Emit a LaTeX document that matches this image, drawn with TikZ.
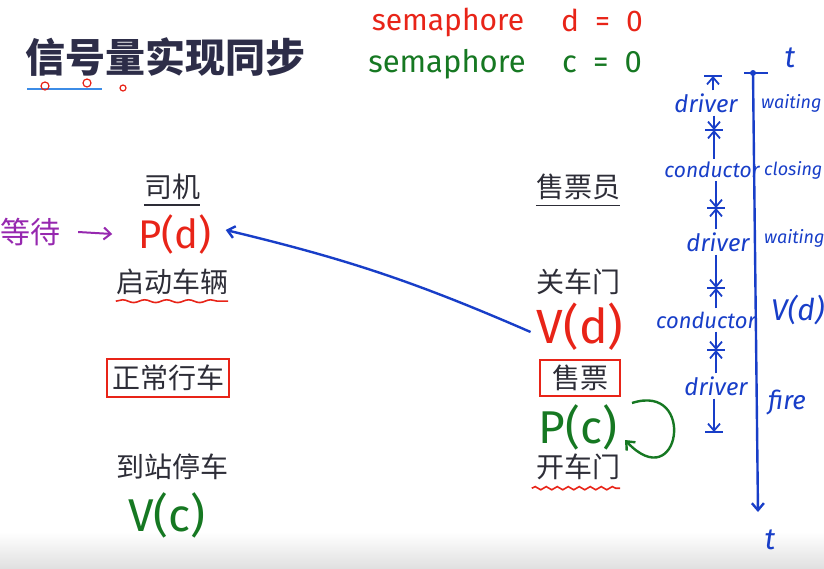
\documentclass[tikz,border=0pt]{standalone}
\usepackage{fontspec}
\setmainfont{Fira Sans}
\newfontfamily\cjk{Noto Sans CJK SC}
\newfontfamily\hand{Fira Sans}
\usetikzlibrary{arrows.meta,decorations.pathmorphing}

\definecolor{inkred}{RGB}{232,36,24}
\definecolor{inkgreen}{RGB}{22,120,34}
\definecolor{inkblue}{RGB}{24,62,200}
\definecolor{inkpurple}{RGB}{150,40,175}
\definecolor{slidetext}{RGB}{45,45,55}
\definecolor{titletext}{RGB}{45,45,72}
\definecolor{markblue}{RGB}{60,140,230}

\tikzset{
  zh/.style={font=\cjk\fontsize{28}{30}\selectfont,text=slidetext,inner sep=0pt},
  title/.style={font=\cjk\bfseries\fontsize{40}{42}\selectfont,text=titletext,inner sep=0pt},
  hand/.style={font=\hand\fontsize{#1}{#1}\selectfont,inner sep=0pt},
  bluehand/.style={font=\hand\itshape\fontsize{#1}{#1}\selectfont,text=inkblue,inner sep=0pt},
  redbox/.style={draw=inkred,line width=2pt,inner xsep=5pt,inner ysep=6pt},
  underline/.style={draw=slidetext,line width=1.2pt},
  wavy/.style={draw=inkred,line width=1.6pt,decorate,decoration={snake,amplitude=1.6pt,segment length=11pt}},
  penblue/.style={draw=inkblue,line width=2.4pt},
  barb/.style={-{Straight Barb[length=7pt,width=12pt]}},
}

\begin{document}
\begin{tikzpicture}[x=1pt,y=-1pt]
\useasboundingbox (0,0) rectangle (824,568);
\shade[top color=white,bottom color=black!12] (0,532) rectangle (824,568);

% title
\node[title] (title) at (165,57) {信号量实现同步};
\draw[markblue,line width=2pt] (27,89) -- (102,89);
\draw[inkred,line width=1.2pt] (45,86) circle (4pt) (87,83) circle (4pt) (123,88) circle (3pt);

% semaphores
\node[hand=30,text=inkred] (semd) at (448,22) {semaphore};
\node[hand=30,text=inkred] (dval) at (602,20) {d\hspace{16pt}=\hspace{16pt}0};
\node[hand=31,text=inkgreen] (semc) at (447,64) {semaphore};
\node[hand=31,text=inkgreen] (cval) at (602,62) {c\hspace{16pt}=\hspace{16pt}0};

% driver
\node[zh] (driver) at (172,187) {司机};
\node[hand=40,text=inkred] (pd) at (175,234) {P(d)};
\node[zh] (start) at (172,282) {启动车辆};
\node[zh,redbox] (run) at (168,378) {正常行车};
\node[zh] (stop) at (172,467) {到站停车};
\node[hand=46,text=inkgreen] (vc) at (167,515) {V(c)};
\node[font=\cjk\fontsize{30}{30}\selectfont,text=inkpurple,inner sep=0pt] (wait) at (30,232) {等待};

% conductor
\node[zh] (seller) at (578,187) {售票员};
\node[zh] (close) at (578,282) {关车门};
\node[hand=48,text=inkred] (vd) at (580,327) {V(d)};
\node[zh,redbox,inner xsep=12pt,inner ysep=5pt] (sell) at (580,378) {售票};
\node[hand=46,text=inkgreen] (pc) at (578,427) {P(c)};
\node[zh] (open) at (578,467) {开车门};

\draw[underline] ([yshift=-5pt]driver.south west) -- ([yshift=-5pt]driver.south east);
\draw[underline] ([yshift=-5pt]seller.south west) -- ([yshift=-5pt]seller.south east);
\draw[wavy,decoration={amplitude=1.4pt,segment length=22pt}] ([yshift=-6pt]start.south west) -- ([yshift=-6pt]start.south east);
\draw[wavy] ([xshift=-4pt,yshift=-8pt]open.south west) -- ([yshift=-8pt]open.south east);

\draw[inkpurple,line width=2pt,barb] ([xshift=18pt]wait.east) -- ([xshift=-26pt]pd.west);
\draw[penblue,barb] ([xshift=-6pt,yshift=-5pt]vd.west) to[bend right=5] ([xshift=14pt,yshift=4pt]pd.east);
\coordinate (loopin) at (632,403);
\coordinate (loopout) at (625,440);
\draw[inkgreen,line width=2.4pt,barb] (loopin) .. controls (697,382) and (680,498) .. (loopout);

% timeline
\coordinate (ttop) at (753,73);
\coordinate (tbot) at (758,512);
\draw[penblue,barb] (ttop) -- (tbot);
\draw[penblue] (744,73) -- (768,73);
\fill[inkblue] (ttop) circle (3pt);
\node[bluehand=30] (t0) at (790,58) {t};
\node[bluehand=30] (t1) at (770,540) {t};

\coordinate (b0) at (713,76);
\coordinate (b1) at (714,130);
\coordinate (b2) at (716,208);
\coordinate (b3) at (716,288);
\coordinate (b4) at (716,350);
\coordinate (b5) at (714,432);
\node[bluehand=24] (d1) at (706,103) {driver};
\node[bluehand=21] (c1) at (712,170) {conductor};
\node[bluehand=24] (d2) at (718,242) {driver};
\node[bluehand=22] (c2) at (706,320) {conductor};
\node[bluehand=24] (d3) at (716,386) {driver};
\foreach \b in {b0,b1,b2,b3,b4,b5}
  \draw[penblue,line width=2pt] ([xshift=-9pt]\b) -- ([xshift=9pt]\b);
\foreach \lab/\up/\down in {d1/b0/b1,c1/b1/b2,d2/b2/b3,c2/b3/b4,d3/b4/b5}{
  \draw[penblue,line width=1.8pt,barb] ([yshift=3pt]\lab.north -| \up) -- (\up);
  \draw[penblue,line width=1.8pt,barb] ([yshift=-3pt]\lab.south -| \down) -- (\down);
}

\node[bluehand=18,anchor=west] (s1) at (761,103) {waiting};
\node[bluehand=18,anchor=west] (s2) at (764,170) {closing};
\node[bluehand=18,anchor=west] (s3) at (764,238) {waiting};
\node[bluehand=30,anchor=west] (s4) at (771,310) {V(d)};
\node[bluehand=26,anchor=west] (s5) at (768,403) {fire};
\end{tikzpicture}
\end{document}
